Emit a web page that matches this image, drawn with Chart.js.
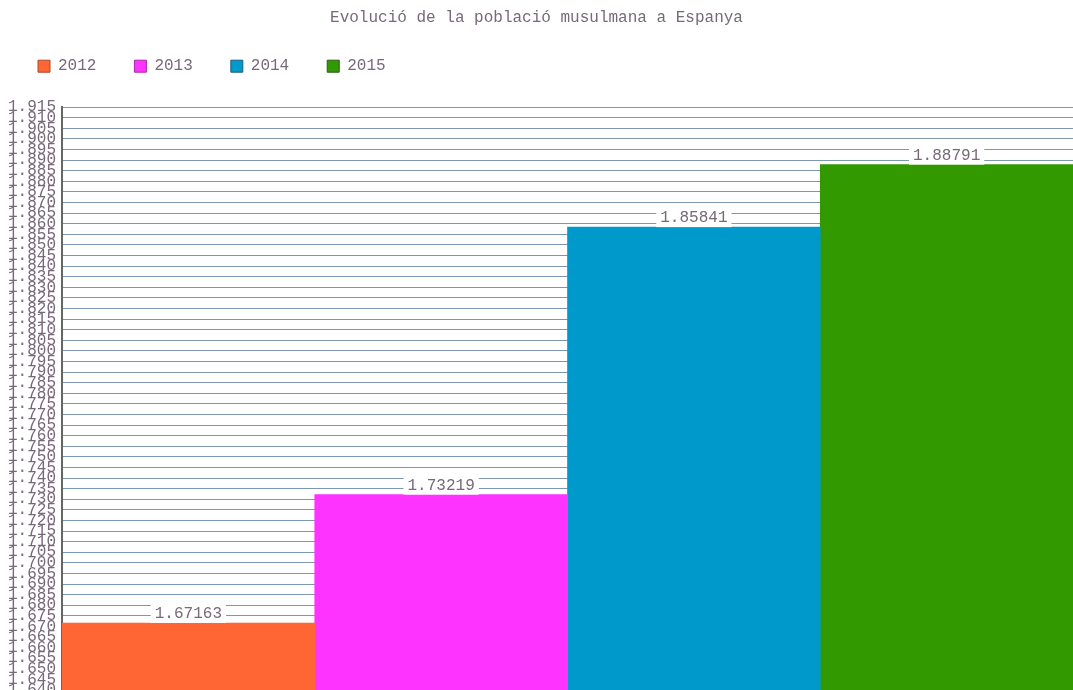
<!DOCTYPE html>
<html>
<head>
<meta charset="utf-8">
<script src="https://cdn.jsdelivr.net/npm/chart.js@4.4.1/dist/chart.umd.min.js"></script>
<style>
  html, body { margin: 0; padding: 0; background: #ffffff; }
  #wrap { width: 1073px; height: 690px; position: relative; }
</style>
</head>
<body>
<div id="wrap"><canvas id="chart"></canvas></div>
<script>
// Data
const chartTitle = 'Evolució de la població musulmana a Espanya';
const years = ['2012', '2013', '2014', '2015'];
const values = [1.67163, 1.73219, 1.85841, 1.88791];
const barColors = ['#ff6633', '#ff33ff', '#0099cc', '#339900'];
const edgeColors = ['#a84a2a', '#a62aa6', '#1a5f7a', '#2a5a1a'];
const yMin = 1.640;
const yMax = 1.915;
const yStep = 0.005;

const textColor = '#776a78';
const monoFont = "'Liberation Mono', 'Courier New', monospace";

// Value boxes drawn above each bar
const valueLabels = {
  id: 'valueLabels',
  afterDatasetsDraw(chart) {
    const ctx = chart.ctx;
    ctx.save();
    ctx.font = '16px ' + monoFont;
    ctx.textAlign = 'center';
    ctx.textBaseline = 'middle';
    chart.data.datasets.forEach((ds, i) => {
      const bar = chart.getDatasetMeta(i).data[0];
      if (!bar) return;
      const txt = ds.data[0].toFixed(5);
      const w = ctx.measureText(txt).width + 8;
      const h = 20;
      ctx.fillStyle = '#ffffff';
      ctx.fillRect(bar.x - w / 2, bar.y - h, w, h);
      ctx.fillStyle = textColor;
      ctx.fillText(txt, bar.x, bar.y - h / 2 + 1);
    });
    ctx.restore();
  }
};

// Extra room between legend and plot area
const legendGap = {
  id: 'legendGap',
  beforeInit(chart) {
    const fit = chart.legend.fit;
    chart.legend.fit = function () {
      fit.call(this);
      this.height += 23;
    };
  }
};

const datasets = years.map((y, i) => ({
  label: y,
  data: [values[i]],
  backgroundColor: barColors[i],
  borderWidth: 0,
  categoryPercentage: 1.0,
  barPercentage: 1.0
}));

new Chart(document.getElementById('chart'), {
  type: 'bar',
  data: { labels: [''], datasets: datasets },
  options: {
    responsive: true,
    maintainAspectRatio: false,
    animation: false,
    layout: { padding: 0 },
    plugins: {
      title: {
        display: true,
        text: chartTitle,
        color: textColor,
        font: { family: monoFont, size: 16, weight: 'normal' },
        padding: { top: 8, bottom: -7 }
      },
      legend: {
        position: 'top',
        align: 'start',
        labels: {
          color: textColor,
          font: { family: monoFont, size: 16 },
          boxWidth: 12,
          boxHeight: 12,
          padding: 38,
          generateLabels(chart) {
            const items = Chart.defaults.plugins.legend.labels.generateLabels(chart);
            items.forEach((it, i) => {
              it.strokeStyle = edgeColors[i];
              it.lineWidth = 1;
            });
            return items;
          }
        }
      },
      tooltip: { enabled: false }
    },
    scales: {
      x: { display: false },
      y: {
        min: yMin,
        max: yMax,
        border: { display: true, color: '#666666', width: 2 },
        grid: { color: '#7d96b2', lineWidth: 1, drawTicks: false },
        ticks: {
          stepSize: yStep,
          autoSkip: false,
          padding: 6,
          color: textColor,
          font: { family: monoFont, size: 16 },
          callback: v => Number(v).toFixed(3)
        },
        afterFit(scale) {
          scale.width = 62;
          scale.paddingTop = 0;
          scale.paddingBottom = 0;
        }
      }
    }
  },
  plugins: [valueLabels, legendGap]
});
</script>
</body>
</html>
